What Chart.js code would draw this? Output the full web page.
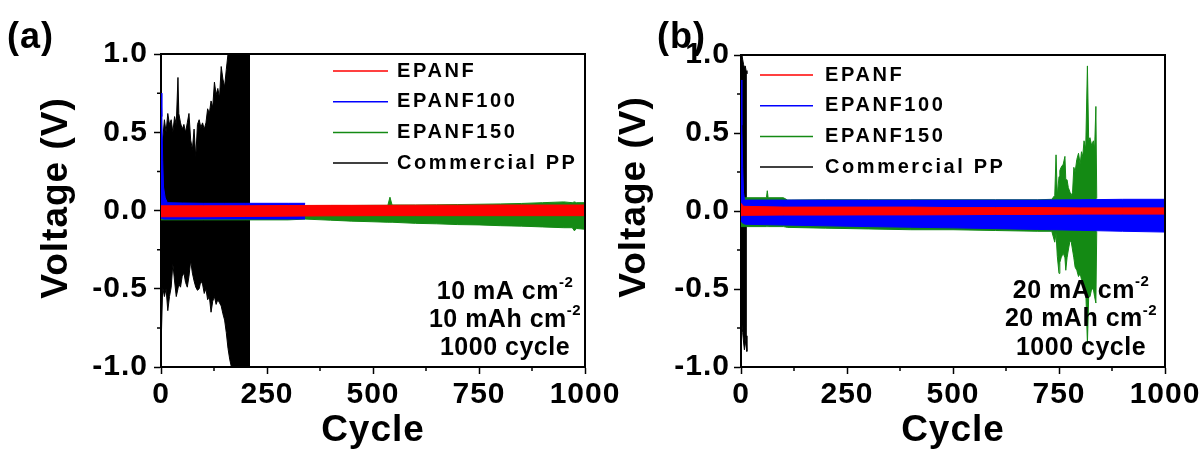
<!DOCTYPE html>
<html>
<head>
<meta charset="utf-8">
<script src="https://cdn.jsdelivr.net/npm/chart.js@4.4.1/dist/chart.umd.min.js"></script>
<style>
  html, body { margin: 0; padding: 0; background: #fff; }
  #wrap { position: relative; width: 1204px; height: 452px; overflow: hidden; }
  canvas { position: absolute; top: 0; }
  #chartA { left: 0; }
  #chartB { left: 602px; }
</style>
</head>
<body>
<div id="wrap">
  <canvas id="chartA" width="640" height="452"></canvas>
  <canvas id="chartB" width="602" height="452"></canvas>
</div>
<script>
// axis ticks
const xTicks = [0, 250, 500, 750, 1000];
const xMinor = [125, 375, 625, 875];
const yTicks = [-1.0, -0.5, 0.0, 0.5, 1.0];
const yMinor = [-0.75, -0.25, 0.25, 0.75];

const legendNames = ['EPANF', 'EPANF100', 'EPANF150', 'Commercial PP'];

// panel (a): 10 mA cm-2, envelope (max / min voltage)
const aRedCycles = [0, 100, 200, 300, 400, 500, 600, 700, 800, 900, 1000];
const aRedUpper = [0.03, 0.03, 0.03, 0.032, 0.033, 0.033, 0.034, 0.034, 0.035, 0.035, 0.035];
const aRedLower = [-0.04, -0.04, -0.038, -0.036, -0.034, -0.033, -0.033, -0.033, -0.033, -0.033, -0.033];

const aBlueCycles = [0, 2, 4, 6, 10, 15, 50, 100, 150, 200, 250, 300, 340];
const aBlueUpper = [0.75, 0.6, 0.32, 0.15, 0.08, 0.05, 0.048, 0.046, 0.046, 0.046, 0.046, 0.046, 0.046];
const aBlueLower = [-0.05, -0.05, -0.052, -0.055, -0.055, -0.055, -0.055, -0.054, -0.054, -0.054, -0.054, -0.054, -0.054];

const aGreenCycles = [0, 100, 200, 250, 300, 340, 400, 450, 500, 535, 540, 545, 600, 650, 700, 750, 800, 850, 900, 950, 970, 975, 980, 1000];
const aGreenUpper = [0.03, 0.03, 0.03, 0.03, 0.03, 0.03, 0.032, 0.032, 0.033, 0.033, 0.085, 0.035, 0.035, 0.036, 0.038, 0.04, 0.042, 0.045, 0.05, 0.055, 0.05, 0.055, 0.05, 0.05];
const aGreenLower = [-0.06, -0.06, -0.06, -0.06, -0.06, -0.055, -0.062, -0.068, -0.072, -0.075, -0.075, -0.075, -0.082, -0.085, -0.09, -0.092, -0.097, -0.1, -0.105, -0.11, -0.11, -0.13, -0.115, -0.12];

const aBlackCycles = [1, 4, 8, 12, 16, 20, 24, 28, 32, 36, 40, 42, 46, 50, 54, 58, 62, 66, 70, 74, 78, 82, 86, 90, 94, 98, 102, 106, 110, 114, 118, 122, 126, 130, 134, 138, 142, 146, 150, 154, 158, 162, 166, 210];
const aBlackUpper = [0.30, 0.45, 0.58, 0.50, 0.62, 0.55, 0.58, 0.50, 0.60, 0.55, 0.85, 0.62, 0.56, 0.52, 0.55, 0.50, 0.56, 0.62, 0.45, 0.39, 0.52, 0.34, 0.55, 0.58, 0.53, 0.56, 0.52, 0.56, 0.65, 0.62, 0.70, 0.66, 0.82, 0.74, 0.78, 0.72, 0.92, 0.84, 0.79, 0.90, 1.0, 1.0, 1.0, 1.0];
const aBlackLower = [-0.78, -0.49, -0.55, -0.50, -0.64, -0.55, -0.49, -0.34, -0.45, -0.55, -0.50, -0.47, -0.49, -0.42, -0.40, -0.46, -0.49, -0.42, -0.32, -0.40, -0.45, -0.49, -0.51, -0.50, -0.45, -0.47, -0.53, -0.50, -0.57, -0.55, -0.65, -0.58, -0.55, -0.60, -0.57, -0.59, -0.61, -0.66, -0.70, -0.78, -0.88, -0.95, -1.0, -1.0];

// panel (b): 20 mA cm-2
const bRedCycles = [0, 3, 6, 100, 200, 300, 400, 500, 600, 700, 800, 900, 1000];
const bRedUpper = [0.05, 0.04, 0.03, 0.025, 0.025, 0.025, 0.025, 0.022, 0.022, 0.022, 0.02, 0.02, 0.02];
const bRedLower = [-0.03, -0.03, -0.028, -0.026, -0.026, -0.025, -0.025, -0.024, -0.022, -0.022, -0.02, -0.02, -0.02];

const bBlueCycles = [0, 2, 4, 6, 8, 10, 100, 200, 300, 400, 500, 600, 700, 800, 900, 1000];
const bBlueUpper = [0.84, 0.55, 0.28, 0.12, 0.075, 0.07, 0.07, 0.07, 0.07, 0.07, 0.07, 0.07, 0.07, 0.072, 0.075, 0.075];
const bBlueLower = [-0.06, -0.07, -0.078, -0.08, -0.083, -0.085, -0.09, -0.095, -0.1, -0.104, -0.108, -0.113, -0.118, -0.124, -0.13, -0.135];

const bGreenCycles = [0, 10, 60, 62, 64, 100, 110, 200, 300, 400, 500, 600, 700, 733, 740, 743, 746, 750, 752, 755, 760, 764, 766, 769, 772, 776, 779, 782, 785, 788, 792, 796, 800, 803, 806, 809, 813, 817, 820, 823, 827, 831, 834, 837, 839];
const bGreenUpper = [0.085, 0.085, 0.085, 0.13, 0.085, 0.085, 0.07, 0.072, 0.072, 0.072, 0.072, 0.072, 0.072, 0.075, 0.1, 0.36, 0.1, 0.22, 0.26, 0.28, 0.3, 0.35, 0.2, 0.2, 0.15, 0.12, 0.1, 0.12, 0.28, 0.25, 0.33, 0.37, 0.3, 0.38, 0.35, 0.45, 0.4, 0.93, 0.45, 0.47, 0.42, 0.45, 0.4, 0.67, 0.08];
const bGreenLower = [-0.1, -0.1, -0.1, -0.1, -0.1, -0.1, -0.105, -0.11, -0.115, -0.12, -0.12, -0.125, -0.13, -0.13, -0.2, -0.14, -0.29, -0.4, -0.33, -0.3, -0.27, -0.3, -0.38, -0.3, -0.25, -0.19, -0.2, -0.25, -0.3, -0.36, -0.38, -0.42, -0.4, -0.44, -0.46, -0.51, -0.5, -0.85, -0.55, -0.55, -0.5, -0.5, -0.55, -0.59, -0.13];

const bBlackCycles = [0.5, 2, 4, 6, 8, 10, 12, 14];
const bBlackUpper = [0.9, 1.0, 0.97, 0.94, 0.92, 0.93, 0.9, 0.88];
const bBlackLower = [-0.75, -0.72, -0.78, -0.84, -0.89, -0.86, -0.8, -0.9];

const FONT = '"Liberation Sans", Arial, Helvetica, sans-serif';
const RED = '#ff0000', BLUE = '#0000ff', GREEN = '#148a14', BLACK = '#000000';
const COLORS = [RED, BLUE, GREEN, BLACK];

Chart.defaults.font.family = FONT;
Chart.defaults.color = '#000';

function band(label, color, cycles, upper, lower, idx) {
    const common = { pointRadius: 0, borderWidth: 1, tension: 0, clip: 0, borderColor: color, backgroundColor: color };
    return [
        Object.assign({ label: label, data: cycles.map((c, i) => ({ x: c, y: upper[i] })),
            fill: { target: idx + 1, above: color, below: color } }, common),
        Object.assign({ label: label + ' min', data: cycles.map((c, i) => ({ x: c, y: lower[i] })),
            fill: false }, common)
    ];
}

// frame, minor ticks, y title, panel tag, legend and notes
const decor = {
    id: 'decor',
    beforeDraw(chart) {
        chart.ctx.letterSpacing = '1px';
    },
    afterDraw(chart, args, o) {
        const { ctx, chartArea: a } = chart;
        const x = chart.scales.x, y = chart.scales.y;
        ctx.save();
        ctx.strokeStyle = '#000';
        ctx.fillStyle = '#000';
        ctx.lineWidth = 2;
        ctx.beginPath();
        ctx.moveTo(a.left, a.top);
        ctx.lineTo(a.right, a.top);
        ctx.lineTo(a.right, a.bottom);
        ctx.stroke();

        ctx.lineWidth = 1.5;
        ctx.beginPath();
        xMinor.forEach(v => {
            const p = x.getPixelForValue(v);
            ctx.moveTo(p, a.bottom);
            ctx.lineTo(p, a.bottom + 4);
        });
        yMinor.forEach(v => {
            const p = y.getPixelForValue(v);
            ctx.moveTo(a.left, p);
            ctx.lineTo(a.left - 4, p);
        });
        ctx.stroke();

        ctx.save();
        ctx.translate(o.yTitleX, o.yTitleY);
        ctx.rotate(-Math.PI / 2);
        ctx.font = 'bold 37px ' + FONT;
        ctx.letterSpacing = '1px';
        ctx.textAlign = 'center';
        ctx.textBaseline = 'middle';
        ctx.fillText('Voltage (V)', 0, 0);
        ctx.restore();

        ctx.font = 'bold 36px ' + FONT;
        ctx.letterSpacing = '1px';
        ctx.textAlign = 'left';
        ctx.textBaseline = 'middle';
        ctx.fillText(o.tag, o.tagX, o.tagY);

        // legend
        ctx.font = 'bold 20px ' + FONT;
        ctx.letterSpacing = '2.6px';
        legendNames.forEach((name, i) => {
            const ly = o.legendY + i * o.legendGap;
            ctx.strokeStyle = COLORS[i];
            ctx.lineWidth = 1.5;
            ctx.beginPath();
            ctx.moveTo(o.legendX1, ly);
            ctx.lineTo(o.legendX2, ly);
            ctx.stroke();
            ctx.fillStyle = '#000';
            ctx.fillText(name, o.legendTextX, ly);
        });

        // notes
        ctx.letterSpacing = '0.5px';
        o.notes.forEach((n, i) => {
            const ny = o.noteY + i * o.noteGap;
            ctx.font = 'bold 25px ' + FONT;
            const w1 = ctx.measureText(n[0]).width;
            ctx.font = 'bold 15px ' + FONT;
            const w2 = n[1] ? ctx.measureText(n[1]).width : 0;
            const sx = o.noteX - (w1 + w2) / 2;
            ctx.font = 'bold 25px ' + FONT;
            ctx.fillText(n[0], sx, ny);
            if (n[1]) {
                ctx.font = 'bold 15px ' + FONT;
                ctx.fillText(n[1], sx + w1, ny - 9);
            }
        });
        ctx.restore();
    }
};

function makePanel(canvasId, series, layout) {
    const datasets = [
        ...band(legendNames[0], RED, series.red[0], series.red[1], series.red[2], 0),
        ...band(legendNames[1], BLUE, series.blue[0], series.blue[1], series.blue[2], 2),
        ...band(legendNames[2], GREEN, series.green[0], series.green[1], series.green[2], 4),
        ...band(legendNames[3], BLACK, series.black[0], series.black[1], series.black[2], 6)
    ];
    const canvas = document.getElementById(canvasId);
    return new Chart(canvas.getContext('2d'), {
        type: 'line',
        data: { datasets: datasets },
        options: {
            responsive: false,
            animation: false,
            events: [],
            layout: { padding: { top: layout.top, right: layout.right, left: 0, bottom: 0 } },
            plugins: {
                legend: { display: false },
                tooltip: { enabled: false },
                decor: layout.decor
            },
            scales: {
                x: {
                    type: 'linear',
                    min: 0,
                    max: 1000,
                    afterBuildTicks: s => { s.ticks = xTicks.map(v => ({ value: v })); },
                    afterFit: s => { s.height = layout.xHeight; },
                    ticks: {
                        autoSkip: false,
                        maxRotation: 0,
                        padding: 3,
                        color: '#000',
                        font: { size: 30, weight: 'bold' },
                        callback: v => String(v)
                    },
                    grid: { display: true, drawOnChartArea: false, drawTicks: true, tickLength: 7, tickWidth: 1.5, tickColor: '#000' },
                    border: { display: true, color: '#000', width: 2 },
                    title: {
                        display: true,
                        text: 'Cycle',
                        color: '#000',
                        font: { size: 37, weight: 'bold', lineHeight: 1 },
                        padding: { top: 0, bottom: 3 }
                    }
                },
                y: {
                    type: 'linear',
                    min: -1,
                    max: 1,
                    afterBuildTicks: s => { s.ticks = yTicks.map(v => ({ value: v })); },
                    afterFit: s => { s.width = layout.yWidth; },
                    ticks: {
                        autoSkip: false,
                        padding: layout.yPad,
                        color: '#000',
                        font: { size: 30, weight: 'bold' },
                        callback: v => Number(v).toFixed(1)
                    },
                    grid: { display: true, drawOnChartArea: false, drawTicks: true, tickLength: 7, tickWidth: 1.5, tickColor: '#000' },
                    border: { display: true, color: '#000', width: 2 }
                }
            }
        },
        plugins: [decor]
    });
}

makePanel('chartA', {
    red: [aRedCycles, aRedUpper, aRedLower],
    blue: [aBlueCycles, aBlueUpper, aBlueLower],
    green: [aGreenCycles, aGreenUpper, aGreenLower],
    black: [aBlackCycles, aBlackUpper, aBlackLower]
}, {
    top: 54, right: 55, xHeight: 85, yWidth: 161, yPad: 6,
    decor: {
        tag: '(a)', tagX: 7, tagY: 38,
        yTitleX: 57, yTitleY: 198,
        legendX1: 333, legendX2: 388, legendTextX: 397, legendY: 71, legendGap: 30.7,
        notes: [['10 mA cm', '-2'], ['10 mAh cm', '-2'], ['1000 cycle', '']],
        noteX: 505, noteY: 292, noteGap: 28
    }
});

makePanel('chartB', {
    red: [bRedCycles, bRedUpper, bRedLower],
    blue: [bBlueCycles, bBlueUpper, bBlueLower],
    green: [bGreenCycles, bGreenUpper, bGreenLower],
    black: [bBlackCycles, bBlackUpper, bBlackLower]
}, {
    top: 55, right: 39, xHeight: 85, yWidth: 139, yPad: 4,
    decor: {
        tag: '(b)', tagX: 55, tagY: 38,
        yTitleX: 33, yTitleY: 197,
        legendX1: 158, legendX2: 211, legendTextX: 223, legendY: 75, legendGap: 30.7,
        notes: [['20 mA cm', '-2'], ['20 mAh cm', '-2'], ['1000 cycle', '']],
        noteX: 479, noteY: 291, noteGap: 28.5
    }
});
</script>
</body>
</html>
